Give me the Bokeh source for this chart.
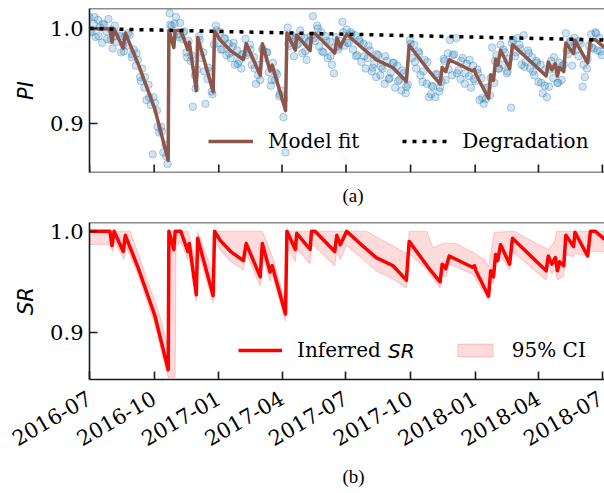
import math
import pandas as pd
from bokeh.plotting import figure
from bokeh.layouts import column
from bokeh.models import (Range1d, FixedTicker, NumeralTickFormatter, DatetimeTickFormatter,
                          Legend, LegendItem, Title, Span, Label)
from bokeh.embed import file_html
from bokeh.resources import INLINE

# ---------------- data ----------------
tick_labels = ["2016-07", "2016-10", "2017-01", "2017-04", "2017-07",
               "2017-10", "2018-01", "2018-04", "2018-07"]
y_ticks = [0.9, 1.0]

fit_dates = ["2016-07-01", "2016-07-30", "2016-08-02", "2016-08-05", "2016-08-18", "2016-08-21",
             "2016-09-08", "2016-10-02", "2016-10-21", "2016-10-22", "2016-10-29", "2016-10-31",
             "2016-11-08", "2016-11-18", "2016-11-20", "2016-11-30", "2016-12-02", "2016-12-24",
             "2016-12-26", "2017-01-03", "2017-01-18", "2017-02-05", "2017-02-09", "2017-03-01",
             "2017-03-04", "2017-03-15", "2017-03-18", "2017-04-06", "2017-04-08", "2017-04-20",
             "2017-04-22", "2017-05-11", "2017-05-13", "2017-05-18", "2017-06-15", "2017-06-18",
             "2017-06-23", "2017-07-02", "2017-07-21", "2017-08-13", "2017-09-06", "2017-09-25",
             "2017-09-29", "2017-10-26", "2017-11-12", "2017-11-15", "2017-11-20", "2017-11-25",
             "2017-12-28", "2017-12-31", "2018-01-02", "2018-01-20", "2018-01-23", "2018-01-27",
             "2018-01-30", "2018-02-02", "2018-02-06", "2018-02-19", "2018-02-23", "2018-04-12",
             "2018-04-15", "2018-04-20", "2018-04-25", "2018-04-28", "2018-05-01", "2018-05-07",
             "2018-05-10", "2018-05-21", "2018-05-23", "2018-06-10", "2018-06-14", "2018-06-21",
             "2018-07-04"]
sr_vals = [1.000, 1.000, 0.986, 1.000, 0.980, 0.996, 0.9645, 0.917, 0.8635, 1.000, 0.982, 1.000,
           1.000, 0.980, 0.988, 0.9375, 0.993, 0.9366, 1.000, 0.991, 0.980, 0.971, 0.988, 0.955,
           0.988, 0.9597, 0.966, 0.9185, 1.000, 0.982, 0.998, 0.982, 1.000, 1.000, 0.980, 0.996,
           0.9867, 1.000, 0.988, 0.974, 0.966, 0.9518, 0.990, 0.9645, 0.950, 0.9676, 0.963, 0.9756,
           0.9645, 0.966, 0.961, 0.936, 0.961, 0.955, 0.977, 0.971, 0.9867, 0.9676, 0.993, 0.961,
           0.9756, 0.9676, 0.974, 0.961, 0.970, 0.966, 0.996, 0.985, 0.999, 0.9756, 1.000, 1.000,
           0.992]
fit_vals = [1.000, 0.9995, 0.9855, 0.9994, 0.9792, 0.9952, 0.9634, 0.9155, 0.8617, 0.9981, 0.980, 0.998,
            0.9979, 0.9777, 0.9857, 0.935, 0.9905, 0.9337, 0.9971, 0.9879, 0.9767, 0.9674, 0.9843, 0.951,
            0.984, 0.9555, 0.9617, 0.9139, 0.9954, 0.9772, 0.9931, 0.9768, 0.9948, 0.9947, 0.9742, 0.9902,
            0.9808, 0.994, 0.9817, 0.9673, 0.9589, 0.9444, 0.9825, 0.9566, 0.9418, 0.9594, 0.9547, 0.9672,
            0.9555, 0.957, 0.952, 0.9267, 0.9516, 0.9456, 0.9675, 0.9615, 0.9771, 0.9578, 0.9831, 0.9503,
            0.9649, 0.9568, 0.9631, 0.9501, 0.959, 0.9549, 0.9849, 0.9737, 0.9876, 0.9639, 0.9883, 0.9882,
            0.980]

deg_dates = ["2016-07-01", "2018-07-04"]
deg_vals = [1.000, 0.988]

ci_upper_dates = ["2016-07-01", "2016-08-28", "2016-09-15", "2016-10-09", "2016-10-21", "2016-10-22",
                  "2016-11-18", "2016-11-30", "2016-12-02", "2016-12-24", "2016-12-26", "2017-03-04",
                  "2017-03-21", "2017-04-07", "2017-04-08", "2017-07-30", "2017-09-11", "2017-09-26",
                  "2017-09-29", "2017-10-24", "2017-11-02", "2017-11-16", "2017-12-05", "2017-12-29",
                  "2018-01-14", "2018-01-20", "2018-01-28", "2018-02-26", "2018-03-07", "2018-04-15",
                  "2018-04-24", "2018-04-27", "2018-07-04"]
ci_upper_vals = [1.000, 1.000, 0.9645, 0.917, 0.885, 1.000,
                 1.000, 0.968, 1.000, 0.958, 1.000, 1.000,
                 0.970, 0.925, 1.000, 1.000, 0.9835, 0.978,
                 1.000, 1.000, 0.9835, 0.988, 0.988, 0.979,
                 0.972, 0.965, 0.999, 1.000, 0.996, 0.982,
                 0.990, 1.000, 1.000]
ci_lower_dates = ["2016-07-01", "2016-07-30", "2016-08-03", "2016-08-06", "2016-08-19", "2016-08-22",
                  "2016-09-08", "2016-10-02", "2016-10-21", "2016-10-31", "2016-11-01", "2016-11-08",
                  "2016-11-18", "2016-11-20", "2016-11-30", "2016-12-02", "2016-12-24", "2016-12-26",
                  "2017-01-03", "2017-01-18", "2017-02-05", "2017-02-09", "2017-03-01", "2017-03-04",
                  "2017-03-15", "2017-03-18", "2017-04-06", "2017-04-08", "2017-04-20", "2017-04-22",
                  "2017-05-11", "2017-05-13", "2017-05-18", "2017-06-15", "2017-06-18", "2017-06-23",
                  "2017-07-02", "2017-07-21", "2017-08-13", "2017-09-06", "2017-09-25", "2017-09-29",
                  "2017-10-26", "2017-11-12", "2017-11-15", "2017-11-20", "2017-11-25", "2017-12-28",
                  "2018-01-02", "2018-01-20", "2018-01-23", "2018-01-27", "2018-01-30", "2018-02-06",
                  "2018-02-19", "2018-02-23", "2018-04-12", "2018-04-15", "2018-04-20", "2018-04-25",
                  "2018-04-28", "2018-05-07", "2018-05-10", "2018-05-21", "2018-05-23", "2018-06-10",
                  "2018-06-14", "2018-07-04"]
ci_lower_vals = [0.987, 0.987, 0.980, 0.990, 0.972, 0.985,
                 0.957, 0.908, 0.856, 0.856, 0.985, 0.990,
                 0.972, 0.978, 0.930, 0.982, 0.929, 0.990,
                 0.982, 0.970, 0.962, 0.978, 0.946, 0.978,
                 0.951, 0.957, 0.911, 0.985, 0.970, 0.983,
                 0.968, 0.986, 0.985, 0.966, 0.981, 0.972,
                 0.986, 0.975, 0.961, 0.953, 0.944, 0.978,
                 0.961, 0.944, 0.958, 0.955, 0.9676, 0.958,
                 0.953, 0.932, 0.953, 0.948, 0.968, 0.976,
                 0.962, 0.980, 0.952, 0.966, 0.958, 0.962,
                 0.952, 0.956, 0.977, 0.975, 0.978, 0.9756,
                 0.980, 0.980]

# measured PI (day offset from 2016-07-01, value)
pi_days = [0, 3, 6, 9, 12, 15, 18, 21, 24, 27,
           30, 33, 36, 39, 42, 45, 48, 51, 54, 57,
           60, 63, 66, 69, 72, 75, 78, 81, 84, 87,
           90, 93, 96, 99, 102, 105, 108, 111, 114, 117,
           120, 123, 126, 129, 132, 135, 138, 141, 144, 147,
           150, 153, 156, 159, 162, 165, 168, 171, 174, 177,
           180, 183, 186, 189, 192, 195, 198, 201, 204, 207,
           210, 213, 216, 219, 222, 225, 228, 231, 234, 237,
           240, 243, 246, 249, 252, 255, 258, 261, 264, 267,
           270, 273, 276, 279, 282, 285, 288, 291, 294, 297,
           300, 303, 306, 309, 312, 315, 318, 321, 324, 327,
           330, 333, 336, 339, 342, 345, 348, 351, 354, 357,
           360, 363, 366, 369, 372, 375, 378, 381, 384, 387,
           390, 393, 396, 399, 402, 405, 408, 411, 414, 417,
           420, 423, 426, 429, 432, 435, 438, 441, 444, 447,
           450, 453, 456, 459, 462, 465, 468, 471, 474, 477,
           480, 483, 486, 489, 492, 495, 498, 501, 504, 507,
           510, 513, 516, 519, 522, 525, 528, 531, 534, 537,
           540, 543, 546, 549, 552, 555, 558, 561, 564, 567,
           570, 573, 576, 579, 582, 585, 588, 591, 594, 597,
           600, 603, 606, 609, 612, 615, 618, 621, 624, 627,
           630, 633, 636, 639, 642, 645, 648, 651, 654, 657,
           660, 663, 666, 669, 672, 675, 678, 681, 684, 687,
           690, 693, 696, 699, 702, 705, 708, 711, 714, 717,
           720, 723, 726, 729,
           1, 7, 13, 19, 25, 31, 37, 43, 49, 55,
           61, 67, 73, 79, 85, 91, 97, 103, 109, 115,
           121, 127, 133, 139, 145, 151, 157, 163, 169, 175,
           181, 187, 193, 199, 205, 211, 217, 223, 229, 235,
           241, 247, 253, 259, 265, 271, 277, 283, 289, 295,
           301, 307, 313, 319, 325, 331, 337, 343, 349, 355,
           361, 367, 373, 379, 385, 391, 397, 403, 409, 415,
           421, 427, 433, 439, 445, 451, 457, 463, 469, 475,
           481, 487, 493, 499, 505, 511, 517, 523, 529, 535,
           541, 547, 553, 559, 565, 571, 577, 583, 589, 595,
           601, 607, 613, 619, 625, 631, 637, 643, 649, 655,
           661, 667, 673, 679, 685, 691, 697, 703, 709, 715,
           721, 727]
pi_vals = [1.012, 0.996, 1.005, 0.991, 1.009, 1.001, 0.985, 1.004, 0.997, 1.010,
           0.988, 0.979, 1.003, 0.986, 0.995, 0.975, 0.983, 0.991, 0.982, 0.993,
           0.970, 0.978, 0.961, 0.967, 0.949, 0.958, 0.938, 0.925, 0.941, 0.920,
           0.868, 0.922, 0.914, 0.891, 0.897, 0.870, 0.878, 0.858, 1.016, 1.003,
           0.992, 1.012, 0.994, 1.006, 0.989, 0.997, 0.975, 0.987, 0.966, 0.918,
           0.951, 0.957, 0.992, 0.969, 0.975, 0.921, 0.947, 0.955, 0.934, 0.983,
           1.003, 0.985, 0.996, 0.978, 0.990, 0.972, 0.984, 0.969, 0.981, 0.962,
           0.977, 0.966, 0.958, 0.973, 0.989, 0.975, 0.983, 0.962, 0.970, 0.942,
           0.951, 0.946, 0.979, 0.969, 0.975, 0.954, 0.940, 0.964, 0.946, 0.952,
           0.929, 0.935, 0.907, 0.870, 1.001, 0.982, 0.993, 0.971, 0.990, 0.984,
           0.998, 0.974, 0.990, 0.967, 0.986, 0.992, 1.013, 0.987, 1.003, 0.981,
           0.996, 0.975, 0.992, 0.969, 0.986, 0.962, 0.953, 0.991, 0.978, 0.987,
           1.007, 0.982, 0.999, 0.985, 0.996, 0.978, 0.993, 0.972, 0.988, 0.965,
           0.984, 0.958, 0.969, 0.977, 0.955, 0.963, 0.949, 0.972, 0.951, 0.958,
           0.942, 0.966, 0.947, 0.954, 0.964, 0.938, 0.961, 0.946, 0.935, 0.953,
           0.932, 0.941, 0.988, 0.969, 0.983, 0.958, 0.976, 0.951, 0.944, 0.967,
           0.942, 0.928, 0.931, 0.939, 0.928, 0.952, 0.934, 0.944, 0.968, 0.946,
           0.974, 0.988, 0.951, 0.973, 0.990, 0.956, 0.947, 0.969, 0.942, 0.963,
           0.950, 0.938, 0.961, 0.945, 0.957, 0.925, 0.948, 0.921, 0.926, 0.938,
           0.930, 0.980, 0.943, 0.972, 0.958, 0.983, 0.962, 0.975, 0.953, 0.968,
           0.917, 0.988, 0.971, 0.990, 0.983, 0.962, 0.993, 0.965, 0.977, 0.958,
           0.970, 0.951, 0.966, 0.944, 0.962, 0.932, 0.940, 0.928, 0.939, 0.966,
           0.948, 0.957, 0.943, 0.964, 0.946, 0.962, 0.995, 0.973, 0.987, 0.961,
           0.990, 0.978, 0.971, 0.984, 0.939, 0.949, 0.958, 0.982, 0.994, 0.979,
           0.996, 0.977, 0.990, 0.972,
           0.997, 1.012, 0.992, 1.005, 0.989, 0.999, 0.992, 0.992, 0.976, 0.995,
           0.973, 0.974, 0.945, 0.949, 0.928, 0.928, 0.897, 0.892, 0.866, 1.004,
           1.005, 0.991, 0.996, 0.970, 0.972, 0.937, 0.988, 0.955, 0.959, 0.931,
           0.998, 0.978, 0.989, 0.974, 0.985, 0.963, 0.973, 0.972, 0.978, 0.958,
           0.962, 0.977, 0.975, 0.946, 0.954, 0.931, 0.926, 0.984, 0.989, 0.983,
           0.992, 0.976, 0.987, 0.990, 1.000, 0.976, 0.987, 0.971, 0.980, 0.981,
           0.996, 0.985, 0.994, 0.971, 0.986, 0.971, 0.982, 0.959, 0.973, 0.960,
           0.971, 0.948, 0.964, 0.945, 0.956, 0.939, 0.984, 0.965, 0.974, 0.955,
           0.965, 0.940, 0.952, 0.938, 0.966, 0.957, 0.972, 0.953, 0.966, 0.953,
           0.967, 0.947, 0.953, 0.927, 0.938, 0.948, 0.966, 0.958, 0.978, 0.955,
           0.985, 0.975, 0.979, 0.960, 0.974, 0.955, 0.964, 0.943, 0.957, 0.957,
           0.970, 0.943, 0.961, 0.977, 0.986, 0.983, 0.987, 0.962, 0.968, 0.980,
           0.995, 0.976]

# ---------------- helpers ----------------
start = pd.Timestamp("2016-07-01")
x_start = start
x_end = pd.Timestamp("2018-07-04")


def ms(s):
    return pd.Timestamp(s).timestamp() * 1000.0


tick_ms = [ms(t + "-01") for t in tick_labels]
tick_dt = pd.to_datetime([t + "-01" for t in tick_labels])
fit_x = pd.to_datetime(fit_dates)
deg_x = pd.to_datetime(deg_dates)
pi_x = start + pd.to_timedelta(pi_days, unit="D")
band_x = list(pd.to_datetime(ci_upper_dates)) + list(pd.to_datetime(ci_lower_dates))[::-1]
band_y = ci_upper_vals + ci_lower_vals[::-1]

INK = "#1a1a1a"
SERIF = "DejaVu Serif"
TICK_FS = "21px"


def make_fig(height, top, bottom, yr, ylabel, with_xaxis):
    p = figure(width=604, height=height, x_axis_type="datetime",
               x_axis_location="below" if with_xaxis else None,
               x_range=Range1d(x_start, x_end), y_range=Range1d(yr[0], yr[1]),
               output_backend="svg", toolbar_location=None,
               min_border_left=89, min_border_right=0,
               min_border_top=top, min_border_bottom=bottom)
    p.outline_line_color = None
    p.xgrid.grid_line_color = None
    p.ygrid.grid_line_color = None
    p.background_fill_color = "white"
    p.border_fill_color = "white"
    axes = [p.yaxis[0]] + ([p.xaxis[0]] if with_xaxis else [])
    for ax in axes:
        ax.axis_line_color = INK
        ax.axis_line_width = 1.6
        ax.major_tick_in = 8
        ax.major_tick_out = 0
        ax.major_tick_line_color = INK
        ax.major_tick_line_width = 1.6
        ax.minor_tick_line_color = None
        ax.major_label_text_font = SERIF
        ax.major_label_text_font_size = TICK_FS
        ax.major_label_text_color = "black"
    if with_xaxis:
        p.xaxis.ticker = FixedTicker(ticks=tick_ms)
        p.xaxis.formatter = DatetimeTickFormatter(days="%Y-%m", months="%Y-%m", years="%Y-%m")
    p.yaxis.ticker = FixedTicker(ticks=y_ticks)
    p.yaxis.formatter = NumeralTickFormatter(format="0.0")
    p.yaxis.major_label_standoff = 6
    p.yaxis.axis_label = ylabel
    p.yaxis.axis_label_text_font = "DejaVu Sans"
    p.yaxis.axis_label_text_font_style = "italic"
    p.yaxis.axis_label_text_font_size = "21px"
    p.yaxis.axis_label_text_color = "black"
    p.yaxis.axis_label_standoff = 9
    p.add_layout(Span(location=yr[1], dimension="width", line_color=INK, line_width=1.6))
    return p


# ---------------- panel (a) ----------------
ya = (0.849, 1.021)
pa = make_fig(220, 8, 48, ya, "PI", with_xaxis=False)
pa.add_layout(Span(location=ya[0], dimension="width", line_color=INK, line_width=1.6))
pa.ray(x=tick_dt, y=[ya[0]] * len(tick_dt), length=8, length_units="screen",
       angle=90, angle_units="deg", line_color=INK, line_width=1.6)

pa.scatter(pi_x, pi_vals, size=7.5, fill_color="#1f77b4", fill_alpha=0.2,
           line_color="#1f77b4", line_alpha=0.33, line_width=1)
r_fit = pa.line(fit_x, fit_vals, line_color="#8c564b", line_width=3.5, line_join="round")
r_deg = pa.line(deg_x, deg_vals, line_color="black", line_width=3.5, line_dash="4 6")

leg_a = Legend(items=[LegendItem(label="Model fit", renderers=[r_fit]),
                      LegendItem(label="Degradation", renderers=[r_deg])],
               orientation="horizontal", location=(119, 19),
               glyph_width=45, glyph_height=20, label_standoff=15, spacing=43,
               padding=0, margin=0, border_line_color=None, background_fill_alpha=0,
               label_text_font=SERIF, label_text_font_size="20px", label_text_color="black")
pa.add_layout(leg_a)
pa.add_layout(Title(text="(a)", align="left", offset=253, standoff=21,
                    text_font="Liberation Serif", text_font_size="19px",
                    text_font_style="normal", text_color="black"), "below")

# ---------------- panel (b) ----------------
pb = make_fig(273, 2, 109, (0.854, 1.0086), "SR", with_xaxis=True)
pb.xaxis.major_label_orientation = math.pi / 6
pb.xaxis.major_label_standoff = 17

r_ci = pb.patch(band_x, band_y, fill_color="red", fill_alpha=0.14,
                line_color="red", line_alpha=0.16, line_width=1.2)
r_sr = pb.line(fit_x, sr_vals, line_color="red", line_width=3.5, line_join="round")

leg_b = Legend(items=[LegendItem(label="Inferred", renderers=[r_sr]),
                      LegendItem(label="95% CI", renderers=[r_ci])],
               orientation="horizontal", location=(149, 17),
               glyph_width=44, glyph_height=16, label_standoff=15, spacing=72,
               padding=0, margin=0, border_line_color=None, background_fill_alpha=0,
               label_text_font=SERIF, label_text_font_size="20px", label_text_color="black")
pb.add_layout(leg_b)
pb.add_layout(Label(x=ms("2017-08-30"), y=0.8817, text="SR", text_font="DejaVu Sans",
                    text_font_style="italic", text_font_size="20px", text_color="black",
                    text_baseline="middle"))
pb.add_layout(Title(text="(b)", align="left", offset=253, standoff=14,
                    text_font="Liberation Serif", text_font_size="19px",
                    text_font_style="normal", text_color="black"), "below")

layout = column(pa, pb, spacing=0)
open("out.html", "w").write(file_html(layout, INLINE))
